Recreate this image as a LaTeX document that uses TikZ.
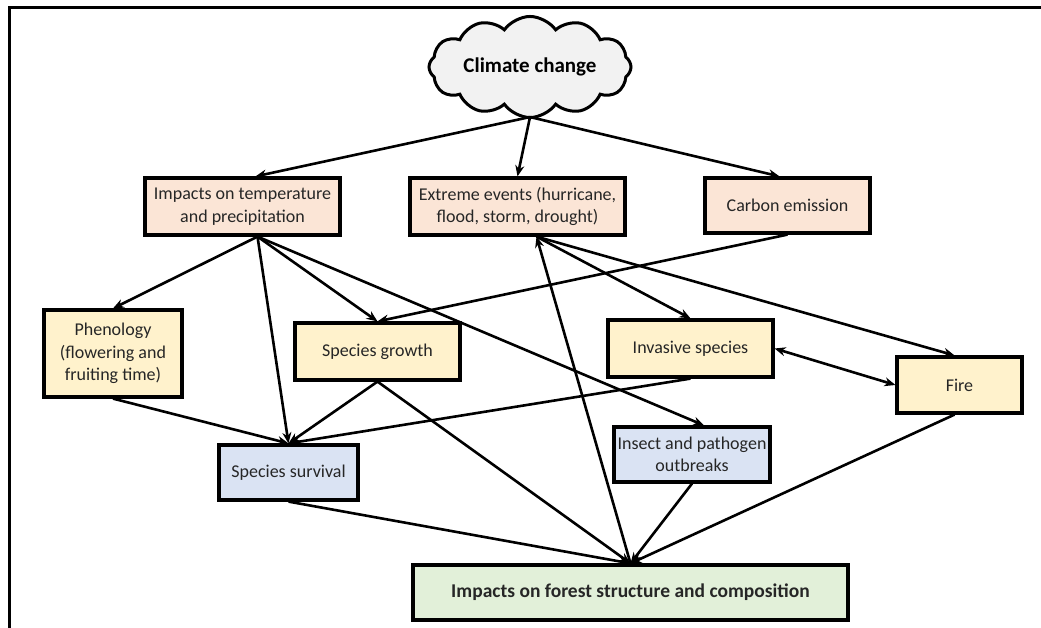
\documentclass[tikz,border=0pt]{standalone}
\usepackage{fontspec}
\setmainfont{Carlito}
\usetikzlibrary{shapes.symbols,arrows.meta,calc}
\definecolor{peach}{HTML}{FBE5D6}
\definecolor{pale}{HTML}{FFF2CC}
\definecolor{paleblue}{HTML}{DAE3F3}
\definecolor{palegreen}{HTML}{E2F0D9}
\definecolor{cloudgray}{HTML}{F2F2F2}
\definecolor{txt}{HTML}{262626}
\begin{document}
\begin{tikzpicture}[x=1pt,y=-1pt,
  box/.style={draw=black,line width=3.2pt,align=center,inner sep=0pt,font=\fontsize{18}{22.5}\selectfont,text=txt},
  arr/.style={line width=2.6pt,-{Stealth[length=11pt,width=9pt]}},
  darr/.style={line width=2.6pt,{Stealth[length=11pt,width=9pt]}-{Stealth[length=11pt,width=9pt]}}]
\useasboundingbox (0,0) rectangle (1041,628);
\fill[white] (0,0) rectangle (1041,628);
\draw[line width=3pt] (1041,8) -- (9,8) -- (9,628);
% nodes
\node[cloud,draw=black,fill=cloudgray,line width=3pt,cloud puffs=12,cloud puff arc=110,aspect=2.4,minimum width=202pt,minimum height=84pt,inner sep=0pt,font=\fontsize{21}{24}\selectfont\bfseries] (cc) at (530,67) {Climate change};
\node[box,fill=peach,minimum width=195pt,minimum height=57pt] (temp) at (242.5,206.5) {Impacts on temperature\\and precipitation};
\node[box,fill=peach,minimum width=215pt,minimum height=57pt] (ext) at (517.5,206.5) {Extreme events (hurricane,\\flood, storm, drought)};
\node[box,fill=peach,minimum width=165pt,minimum height=55pt] (carb) at (787.5,205.5) {Carbon emission};
\node[box,fill=pale,minimum width=138pt,minimum height=87pt] (phen) at (113,353.5) {Phenology\\(flowering and\\fruiting time)};
\node[box,fill=pale,minimum width=165pt,minimum height=57pt] (grow) at (377.5,351.5) {Species growth};
\node[box,fill=pale,minimum width=165pt,minimum height=57pt] (inv) at (690.5,348.5) {Invasive species};
\node[box,fill=pale,minimum width=125pt,minimum height=56pt] (fire) at (959.5,385) {Fire};
\node[box,fill=paleblue,minimum width=139pt,minimum height=55pt] (surv) at (288.5,472.5) {Species survival};
\node[box,fill=paleblue,minimum width=156pt,minimum height=55pt] (ins) at (692,454.5) {Insect and pathogen\\outbreaks};
\node[box,fill=palegreen,minimum width=435pt,minimum height=55pt,font=\fontsize{19.5}{22}\selectfont\bfseries] (forest) at (630.5,592.5) {Impacts on forest structure and composition};
% hubs
\coordinate (cch) at ($(cc.south)+(0,-2)$);
\coordinate (temph) at ($(temp.south)+(15,0)$);
\coordinate (exth) at ($(ext.south)+(19,0)$);
% connectors
\draw[arr] (cch) -- ($(temp.north)+(13,0)$);
\draw[arr] (cch) -- (ext.north);
\draw[arr] (cch) -- ($(carb.north)+(-8,0)$);
\draw[arr] (temph) -- (phen.north);
\draw[arr] (temph) -- (grow.north);
\draw[arr] (temph) -- (surv.north);
\draw[arr] (temph) -- ($(ins.north)+(12,0)$);
\draw[arr] (exth) -- (inv.north);
\draw[arr] (exth) -- ($(fire.north)+(-5,0)$);
\draw[arr] (carb.south) -- (grow.north);
\draw[arr] (forest.north) -- (exth);
\draw[darr] (inv.east) -- (fire.west);
\draw[arr] (phen.south) -- (surv.north);
\draw[arr] (grow.south) -- (surv.north);
\draw[arr] (inv.south) -- (surv.north);
\draw[arr] (grow.south) -- (forest.north);
\draw[arr] (surv.south) -- (forest.north);
\draw[arr] (ins.south) -- (forest.north);
\draw[arr] ($(fire.south)+(-5,0)$) -- (forest.north);
\end{tikzpicture}
\end{document}
